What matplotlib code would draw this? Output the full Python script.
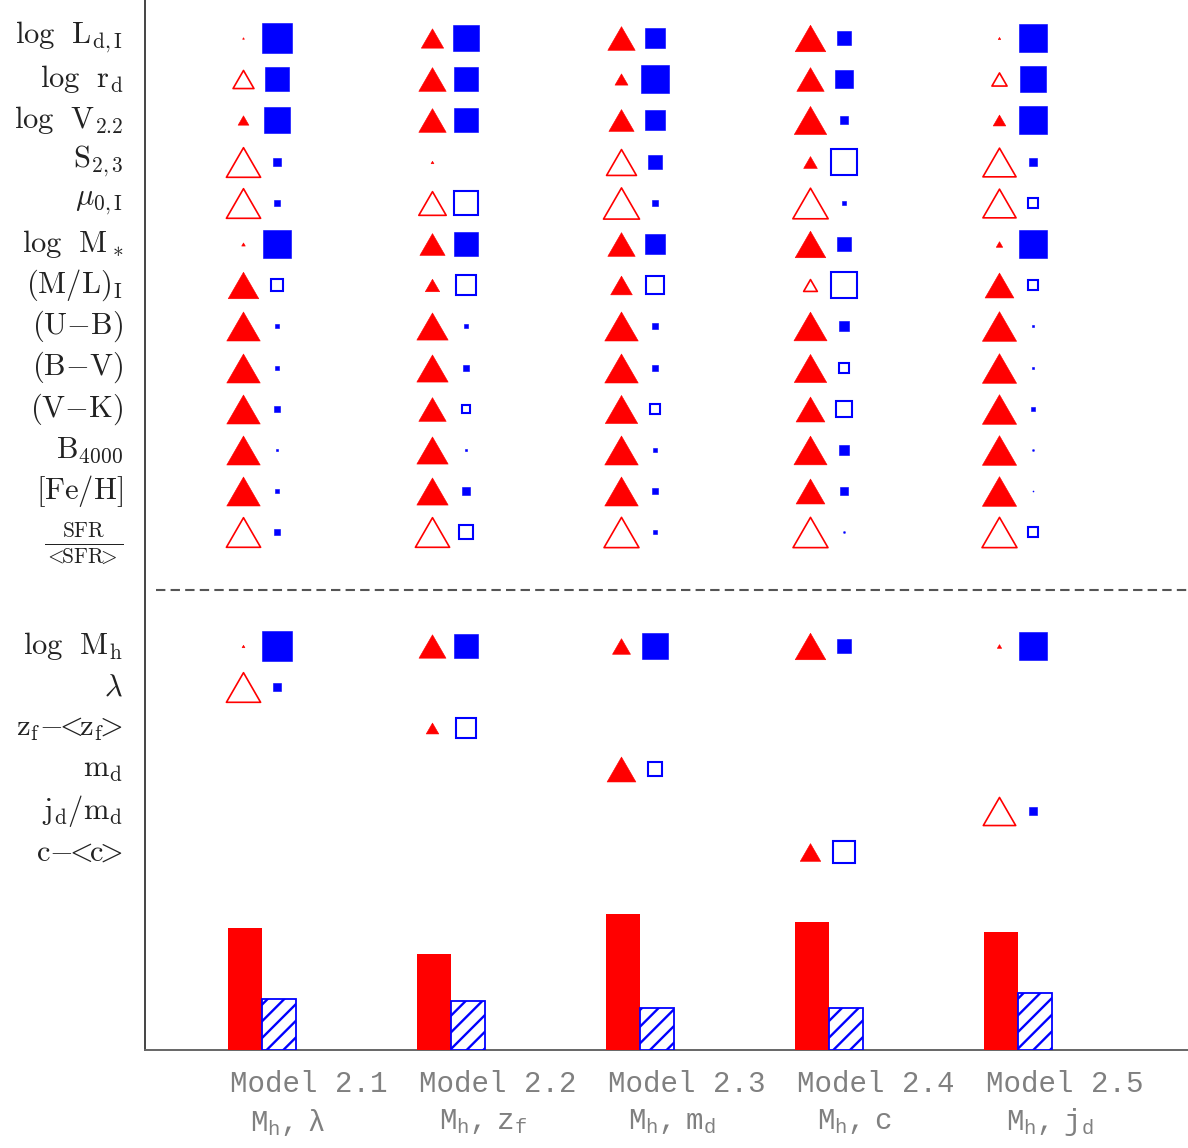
## coefficient-size plot for the five halo models
import numpy as np
import matplotlib
matplotlib.use('Agg')
import matplotlib.pyplot as plt
from matplotlib.path import Path
from matplotlib.transforms import blended_transform_factory

plt.rcParams['mathtext.fontset'] = 'custom'
plt.rcParams['mathtext.rm'] = 'Liberation Mono'
plt.rcParams['mathtext.it'] = 'Liberation Mono:italic'
plt.rcParams['mathtext.bf'] = 'Liberation Mono:bold'
plt.rcParams['hatch.linewidth'] = 1.7

nan = np.nan

## row labels
upper_labels = [r'$\log\ \,{\rm L}_{\rm d,I}$', r'$\log\ \,{\rm r}_{\rm d}$', r'$\log\ \,{\rm V}_{2.2}$',
                r'${\rm S}_{2,3}$', r'$\mu_{0,\rm I}$', r'$\log\ \,{\rm M}_*$', r'$({\rm M/L})_{\rm I}$',
                r'$({\rm U{-}B})$', r'$({\rm B{-}V})$', r'$({\rm V{-}K})$', r'${\rm B}_{4000}$',
                r'$[{\rm Fe/H}]$', r'$\frac{\rm SFR}{<\!\!{\rm SFR}\!\!>}$']
lower_labels = [r'$\log\ \,{\rm M}_{\rm h}$', r'$\lambda$',
                r'${\rm z}_{\rm f}{-}\!\!<\!\!{\rm z}_{\rm f}\!\!>$',
                r'${\rm m}_{\rm d}$', r'${\rm j}_{\rm d}/{\rm m}_{\rm d}$', r'${\rm c}{-}\!\!<\!\!{\rm c}\!\!>$']

models = ['Model 2.1', 'Model 2.2', 'Model 2.3', 'Model 2.4', 'Model 2.5']
model_vars = [r'$\mathrm{M_h,\ \lambda}$', r'$\mathrm{M_h,\ z_f}$', r'$\mathrm{M_h,\ m_d}$',
              r'$\mathrm{M_h,\ c}$', r'$\mathrm{M_h,\ j_d}$']

## coefficients: 13 upper rows then 6 lower rows; sign -> filled (+) / open (-)
tri_21 = [0.05, -0.58, 0.30, -0.95, -0.95, 0.10, 0.85, 0.93, 0.93, 0.93, 0.93, 0.93, -0.95,
          0.08, -0.95, nan, nan, nan, nan]
sq_21 = [0.97, 0.78, 0.85, 0.28, 0.22, 0.93, -0.40, 0.12, 0.12, 0.18, 0.07, 0.15, 0.20,
         0.97, 0.28, nan, nan, nan, nan]
tri_22 = [0.62, 0.76, 0.76, 0.08, -0.76, 0.70, 0.40, 0.87, 0.87, 0.76, 0.87, 0.87, -0.95,
          0.75, nan, 0.35, nan, nan, nan]
sq_22 = [0.85, 0.77, 0.77, 0.0, -0.77, 0.77, -0.62, 0.12, 0.18, -0.27, 0.09, 0.25, -0.47,
         0.77, nan, -0.65, nan, nan, nan]
tri_23 = [0.76, 0.36, 0.70, -0.83, -1.0, 0.76, 0.60, 0.93, 0.93, 0.90, 0.93, 0.93, -0.97,
          0.50, nan, nan, 0.80, nan, nan]
sq_23 = [0.62, 0.90, 0.62, 0.42, 0.18, 0.62, -0.60, 0.18, 0.18, -0.35, 0.15, 0.18, 0.10,
         0.84, nan, nan, -0.47, nan, nan]
tri_24 = [0.85, 0.76, 0.90, 0.38, -0.98, 0.85, -0.38, 0.92, 0.90, 0.80, 0.92, 0.80, -0.97,
          0.85, nan, nan, nan, nan, 0.57]
sq_24 = [0.42, 0.58, 0.28, -0.85, 0.12, 0.42, -0.82, 0.30, -0.30, -0.50, 0.30, 0.28, 0.05,
         0.42, nan, nan, nan, nan, -0.70]
tri_25 = [0.07, -0.42, 0.35, -0.92, -0.92, 0.18, 0.80, 0.95, 0.95, 0.95, 0.95, 0.95, -0.97,
          0.12, nan, nan, nan, -0.90, nan]
sq_25 = [0.92, 0.82, 0.88, 0.27, -0.33, 0.92, -0.35, 0.08, 0.08, 0.10, 0.05, 0.03, -0.30,
         0.92, nan, nan, nan, 0.27, nan]

tri_all = [tri_21, tri_22, tri_23, tri_24, tri_25]
sq_all = [sq_21, sq_22, sq_23, sq_24, sq_25]

## bar heights (arbitrary units)
red_bar = [0.61, 0.48, 0.68, 0.64, 0.59]
blue_bar = [0.255, 0.245, 0.21, 0.21, 0.285]

RED = '#ff0000'
BLUE = '#0000ff'
TRI_PX = 36.0   # triangle width for |coef| = 1
SQ_PX = 31.0    # square side for |coef| = 1
px2pt = 72.0 / 100

tri_marker = Path([(-1, -0.866), (1, -0.866), (0, 0.866), (-1, -0.866)],
                  [Path.MOVETO, Path.LINETO, Path.LINETO, Path.CLOSEPOLY])

fig = plt.figure(figsize=(11.88, 11.48), dpi=100)
ax = fig.add_axes([145 / 1188, 98 / 1148, 1 - 145 / 1188, 1050 / 1148])

row_y = np.r_[np.arange(13), 14.75 + np.arange(6)]
labels = upper_labels + lower_labels

for i in range(len(models)):
    for r, y in enumerate(row_y):
        c = tri_all[i][r]
        if not np.isnan(c) and c != 0:
            ms = TRI_PX * abs(c) * px2pt
            if c > 0:
                ax.plot(i, y, marker=tri_marker, ms=ms, mfc=RED, mec=RED, mew=0.4, ls='none')
            else:
                ax.plot(i, y, marker=tri_marker, ms=ms, mfc='none', mec=RED, mew=1.2, ls='none')
        c = sq_all[i][r]
        if not np.isnan(c) and c != 0:
            ms = SQ_PX * abs(c) * px2pt
            if c > 0:
                ax.plot(i + 0.18, y, marker='s', ms=ms, mfc=BLUE, mec=BLUE, mew=0.4, ls='none')
            else:
                ax.plot(i + 0.18, y, marker='s', ms=ms, mfc='none', mec=BLUE, mew=1.5, ls='none')

# separator between galaxy and halo parameters
ax.plot([-0.46, 5.0], [13.4, 13.4], ls=(0, (4.5, 2.5)), color='#555555', lw=1.5)

ax.set_xlim(-0.519, 5.0)
ax.set_ylim(24.56, -0.92)
ax.set_xticks([])
ax.set_yticks([])
for s in ['top', 'right']:
    ax.spines[s].set_visible(False)
ax.spines['left'].set_color('#444444')
ax.spines['bottom'].set_color('#666666')
ax.spines['left'].set_linewidth(1.4)
ax.spines['bottom'].set_linewidth(1.4)

ytr = ax.get_yaxis_transform()
for k, (lab, y) in enumerate(zip(labels, row_y)):
    dy = 0.25 if k == 12 else 0.0   # fraction label sits a bit low
    ax.text(-0.021, y + dy, lab, transform=ytr, ha='right', va='center', fontsize=22,
            math_fontfamily='cm', color='#222222')

# bars on their own scale
ax2 = ax.twinx()
ax2.set_ylim(0, 5.25)
xs = np.arange(len(models))
ax2.bar(xs + 0.01, red_bar, width=0.18, color=RED, lw=0)
ax2.bar(xs + 0.19, blue_bar, width=0.18, facecolor='white', edgecolor=BLUE, hatch='//', lw=1.3)
ax2.set_yticks([])
for s in ax2.spines.values():
    s.set_visible(False)

btr = blended_transform_factory(ax.transData, fig.transFigure)
for i in range(len(models)):
    ax.text(i + 0.35, 1 - 1084 / 1148, models[i], transform=btr, ha='center', va='center',
            fontsize=21, family='Liberation Mono', color='#808080')
    ax.text(i + 0.037, 1 - 1122 / 1148, model_vars[i], transform=btr, ha='left', va='center',
            fontsize=21, color='#808080')

fig.savefig('out.png', dpi=100)
